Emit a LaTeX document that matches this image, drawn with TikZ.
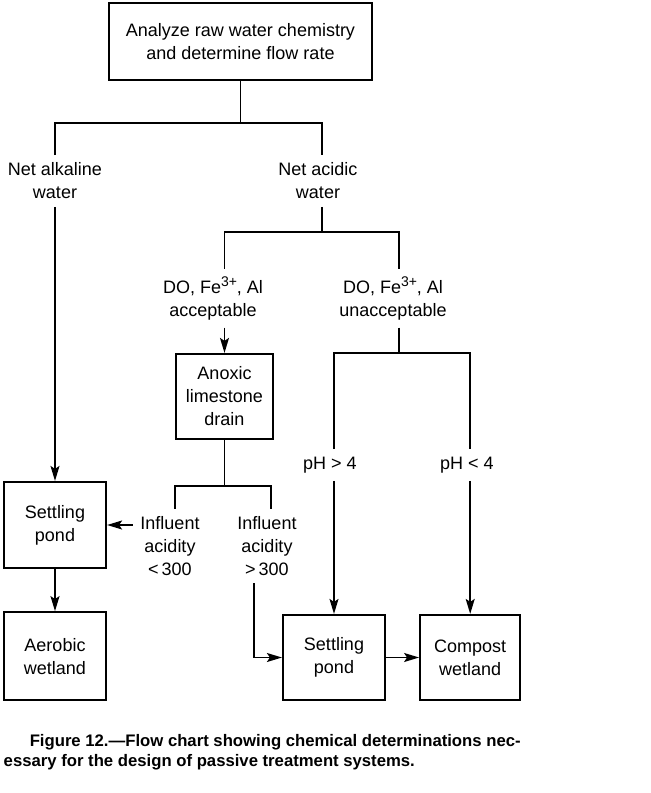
\documentclass[tikz,border=0pt]{standalone}
\usepackage{fontspec}
\setmainfont{Liberation Sans}
\usepackage{tikz}
\usetikzlibrary{arrows.meta,positioning}

\newcommand{\ionsup}[1]{\raisebox{7pt}{\fontsize{14}{14}\selectfont #1}}

\begin{document}
\begin{tikzpicture}[x=1pt, y=-1pt, node distance=42pt, line width=1.5pt,
  >={Stealth[length=15pt,width=9pt,inset=3pt]},
  font=\fontsize{18}{23}\selectfont,
  main node/.style={draw, line width=2.2pt, align=center, inner sep=0pt},
  label node/.style={align=center, inner sep=7pt},
  caption node/.style={anchor=north west, align=left, inner sep=3pt, font=\bfseries\fontsize{16.7}{19.5}\selectfont}]

  \useasboundingbox (0,0) rectangle (651,793);

  \node[main node, minimum width=263pt, minimum height=77pt] (1) at (240.5,41.5) {Analyze raw water chemistry\\and determine flow rate};

  \node[label node] (2) at (55,181) {Net alkaline\\water};
  \node[label node] (3) at (318,181) {Net acidic\\water};

  \node[label node] (4) at (213,298) {DO, Fe\ionsup{3+}, Al\\acceptable};
  \node[label node] (5) at (393,298) {DO, Fe\ionsup{3+}, Al\\unacceptable};

  \node[main node, minimum width=97pt, minimum height=85pt] (6) at (224.5,396.5) {Anoxic\\limestone\\drain};

  \node[label node] (7) at (170,546) {Influent\\acidity\\<\,300};
  \node[label node] (8) at (267,546) {Influent\\acidity\\>\,300};

  \node[label node] (9) at (330,465) {pH > 4};
  \node[label node] (10) at (467,465) {pH < 4};

  \node[main node, minimum width=102pt, minimum height=86pt] (11) at (55,525) {Settling\\pond};
  \node[main node, minimum width=102pt, minimum height=88pt] (12) [below=of 11] {Aerobic\\wetland};

  \node[main node, minimum width=102pt, minimum height=85pt] (13) at (334,657.5) {Settling\\pond};
  \node[main node, minimum width=100pt, minimum height=85pt] (14) [right=33pt of 13] {Compost\\wetland};

  \node[caption node] (15) at (0,731) {\hspace*{26pt}Figure 12.---Flow chart showing chemical determinations nec-\\essary for the design of passive treatment systems.};

  % branch points
  \coordinate (j1) at (240.5,123);
  \coordinate (j2) at (322,232);
  \coordinate (j3) at (399,353);
  \coordinate (j4) at (224.5,486);

  % draw split into alkaline and acidic water
  \tikzstyle{EdgeStyle}=[-]
  \draw[EdgeStyle] (1) -- (j1);
  \draw[EdgeStyle] (2.north) |- (j1) -| (3.north -| j2);
  \draw[EdgeStyle] (3.south -| j2) -- (j2);
  \draw[EdgeStyle] (4.north -| 6.north) |- (j2) -| (5.north -| j3);
  \draw[EdgeStyle] (5.south -| j3) -- (j3);
  \draw[EdgeStyle] (9.north -| 13.north) |- (j3) -| (10.north -| 14.north);
  \draw[EdgeStyle] (6) -- (j4);
  \draw[EdgeStyle] ([xshift=5pt]7.north) |- (j4) -| ([xshift=4pt]8.north);

  % draw arrows into the boxes
  \tikzstyle{EdgeStyle}=[->]
  \draw[EdgeStyle] (2) -- (11);
  \draw[EdgeStyle] (11) -- (12);
  \draw[EdgeStyle] (4.south -| 6.north) -- (6.north);
  \draw[EdgeStyle] (7.west |- 11.east) -- (11.east);
  \draw[EdgeStyle] ([xshift=-13pt]8.south) |- (13.west);
  \draw[EdgeStyle] (9.south -| 13.north) -- (13.north);
  \draw[EdgeStyle] (10.south -| 14.north) -- (14.north);
  \draw[EdgeStyle] (13.east) -- (13.east -| 14.west);

\end{tikzpicture}
\end{document}
